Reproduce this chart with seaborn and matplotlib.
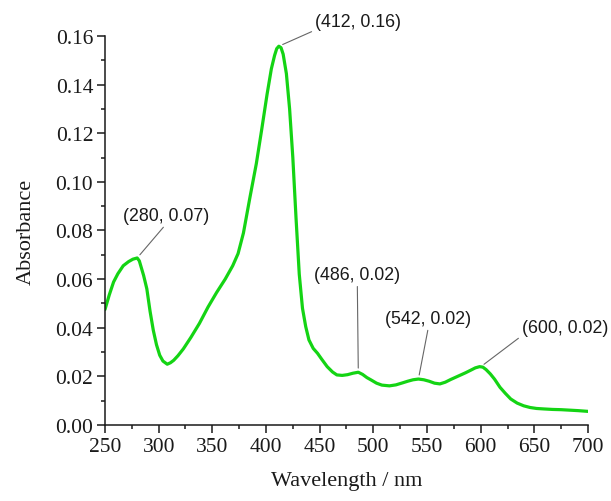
import numpy as np
import pandas as pd
import matplotlib
matplotlib.use("Agg")
import matplotlib.pyplot as plt
import seaborn as sns
from matplotlib.ticker import MultipleLocator

# UV-Vis absorption spectrum
wavelength = [250, 254, 258, 262, 267, 272, 276, 280, 282, 284, 286, 289, 292, 295,
              298, 301, 304, 308, 311, 314, 318, 323, 330, 338, 346, 354, 362, 369,
              374, 379, 385, 391, 396, 401, 405, 408, 410, 412, 414, 416, 419, 422,
              425, 428, 431, 434, 437, 440, 444, 448, 452, 457, 462, 466, 471, 476,
              481, 486, 490, 494, 498, 503, 508, 515, 521, 527, 532, 537, 542, 547,
              552, 557, 562, 567, 572, 577, 581, 586, 591, 595, 599, 602, 605, 609,
              613, 618, 623, 628, 634, 640, 646, 652, 659, 667, 675, 683, 691, 700]
absorbance = [0.0475, 0.0535, 0.0588, 0.0622, 0.0655, 0.0672, 0.0682, 0.0687, 0.0675,
              0.0645, 0.0615, 0.0560, 0.0468, 0.0390, 0.0330, 0.0287, 0.0263, 0.0250,
              0.0256, 0.0266, 0.0285, 0.0313, 0.0360, 0.0418, 0.0485, 0.0545, 0.0600,
              0.0655, 0.0705, 0.0790, 0.0935, 0.1075, 0.1215, 0.1360, 0.1465, 0.1520,
              0.1548, 0.1558, 0.1552, 0.1525, 0.1445, 0.1300, 0.1100, 0.0850, 0.0620,
              0.0480, 0.0405, 0.0350, 0.0315, 0.0295, 0.0270, 0.0240, 0.0218, 0.0206,
              0.0204, 0.0207, 0.0213, 0.0217, 0.0208, 0.0195, 0.0185, 0.0172, 0.0164,
              0.0161, 0.0165, 0.0173, 0.0180, 0.0186, 0.0189, 0.0186, 0.0180, 0.0172,
              0.0169, 0.0176, 0.0187, 0.0197, 0.0205, 0.0215, 0.0226, 0.0235, 0.0240,
              0.0238, 0.0228, 0.0210, 0.0188, 0.0155, 0.0130, 0.0107, 0.0090, 0.0079,
              0.0072, 0.0068, 0.0066, 0.0064, 0.0063, 0.0061, 0.0059, 0.0056]

# Labelled peaks
peak_wl = [280, 412, 486, 542, 600]
peak_abs = [0.07, 0.16, 0.02, 0.02, 0.02]
# label offsets (pixels) and anchoring for each peak label
label_offsets = [(29, 34), (36, 16), (-1, 89), (10, 52), (41, 31)]
label_ha = ["center", "left", "center", "center", "left"]

sns.set_theme(style="ticks")
plt.rcParams["font.family"] = ["Liberation Serif", "DejaVu Serif"]
plt.rcParams["axes.linewidth"] = 1.1

df = pd.DataFrame({"Wavelength": wavelength, "Absorbance": absorbance})

fig = plt.figure(figsize=(6.11, 5.02), dpi=100)
ax = fig.add_axes([0.1718, 0.1514, 0.7906, 0.7749])

sns.lineplot(data=df, x="Wavelength", y="Absorbance", ax=ax,
             color="#14d414", linewidth=2.3)

ax.set_xlim(250, 700)
ax.set_ylim(0, 0.16)
ax.xaxis.set_major_locator(MultipleLocator(50))
ax.xaxis.set_minor_locator(MultipleLocator(25))
ax.yaxis.set_major_locator(MultipleLocator(0.02))
ax.yaxis.set_minor_locator(MultipleLocator(0.01))
ax.yaxis.set_major_formatter(matplotlib.ticker.FormatStrFormatter("%.2f"))
ax.tick_params(axis="both", which="major", direction="out", length=5.5, width=1.1,
               labelsize=15.5, pad=3, colors="#1a1a1a")
ax.tick_params(axis="both", which="minor", direction="out", length=3.2, width=1.1,
               colors="#1a1a1a")
for side in ("top", "right"):
    ax.spines[side].set_visible(False)
for side in ("left", "bottom"):
    ax.spines[side].set_color("#1a1a1a")

ax.set_xlabel("Wavelength / nm", fontsize=16, color="#1a1a1a", labelpad=11)
ax.set_ylabel("Absorbance", fontsize=16, color="#1a1a1a", labelpad=14)

for wl, a, off, ha in zip(peak_wl, peak_abs, label_offsets, label_ha):
    y_curve = np.interp(wl, wavelength, absorbance)
    relx = 0.5 if ha == "center" else 0.0
    ax.annotate(f"({wl}, {a:.2f})", xy=(wl, y_curve), xytext=off,
                textcoords="offset pixels", ha=ha, va="bottom",
                fontsize=12.8, family=["Liberation Sans", "DejaVu Sans"],
                color="#1a1a1a",
                arrowprops=dict(arrowstyle="-", color="#666666", lw=0.8,
                                shrinkA=0, shrinkB=3, relpos=(relx, 0.0)))

fig.savefig("out.png", dpi=100)
